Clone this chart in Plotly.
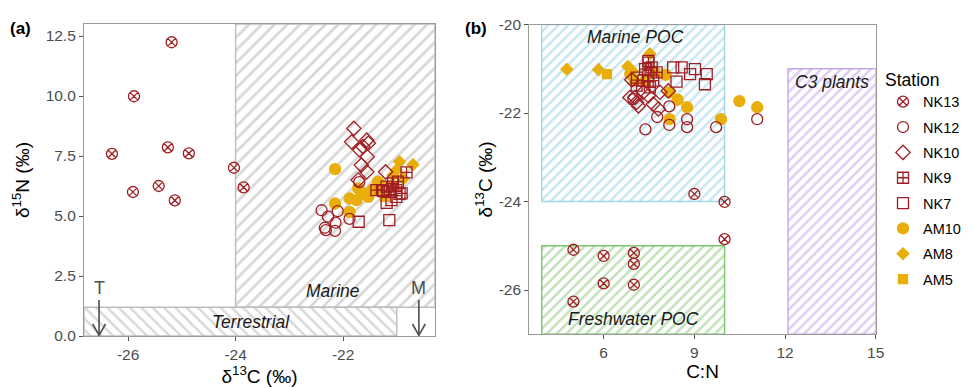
import plotly.graph_objects as go

# ---------------- data ----------------
STATIONS = ["NK13", "NK12", "NK10", "NK9", "NK7", "AM10", "AM8", "AM5"]

# Panel (a): d13C (x) vs d15N (y)
NK13_A_C = [-25.19, -25.89, -26.30, -25.26, -24.87, -25.91, -25.43, -25.13, -24.03, -23.85]
NK13_A_N = [12.24, 9.99, 7.59, 7.86, 7.61, 6.00, 6.25, 5.65, 7.01, 6.19]
NK12_A_C = [-22.40, -22.28, -22.34, -22.32, -22.15, -22.14, -22.10, -21.88, -21.70]
NK12_A_N = [5.24, 4.97, 4.51, 4.41, 4.38, 4.72, 5.20, 4.88, 6.41]
NK10_A_C = [-21.80, -21.84, -21.56, -21.53, -21.69, -21.63, -21.55, -21.66, -21.56, -21.72, -21.21]
NK10_A_N = [8.65, 8.09, 8.16, 8.03, 7.75, 7.89, 7.47, 7.12, 6.84, 6.50, 6.84]
NK9_A_C = [-20.82, -21.38, -21.26, -21.13, -21.01, -20.98, -21.07, -20.91, -21.19]
NK9_A_N = [6.82, 6.08, 6.08, 6.01, 6.08, 6.43, 6.36, 5.94, 6.22]
NK7_A_C = [-21.71, -21.14, -21.19, -21.01, -20.95, -21.10, -21.25]
NK7_A_N = [4.76, 4.83, 5.55, 5.80, 5.92, 5.66, 6.05]
AM10_A_C = [-22.15, -22.15, -21.88, -21.75, -21.88, -21.53, -21.72, -21.35, -21.26, -21.45, -21.62]
AM10_A_N = [6.95, 5.52, 5.73, 5.66, 5.17, 5.80, 6.15, 6.43, 5.94, 6.10, 5.95]
AM8_A_C = [-20.70, -20.95, -21.01, -21.07, -20.88, -21.30]
AM8_A_N = [7.14, 7.26, 6.91, 6.70, 6.55, 6.35]
AM5_A_C = [-21.42, -21.22, -21.10]
AM5_A_N = [6.05, 5.80, 6.25]

# Panel (b): C:N (x) vs d13C (y)
NK13_B_CN = [7, 6, 5, 6, 10, 7, 7, 5, 10, 9]
NK13_B_C = [-25.16, -25.85, -26.26, -25.23, -24.85, -25.88, -25.41, -25.09, -24.01, -23.83]
NK12_B_CN = [7.38, 7.77, 8.17, 8.76, 8.76, 9.72, 11.08, 8.17, 6.98]
NK12_B_C = [-22.37, -22.09, -22.27, -22.32, -22.14, -22.32, -22.14, -21.85, -21.68]
NK10_B_CN = [6.93, 6.87, 7.09, 7.48, 7.64, 7.86, 8.14, 7.31, 7.81, 7.15, 7.04]
NK10_B_C = [-21.25, -21.65, -21.76, -21.61, -21.80, -21.53, -21.50, -21.53, -21.91, -21.84, -21.65]
NK9_B_CN = [7.37, 7.59, 7.75, 7.48, 7.31, 7.64, 7.09, 7.53, 7.48]
NK9_B_C = [-21.01, -20.97, -21.08, -21.16, -21.27, -21.27, -21.38, -21.42, -20.86]
NK7_B_CN = [8.30, 8.58, 9.02, 8.86, 9.41, 8.41, 9.35, 7.48, 7.10]
NK7_B_C = [-20.97, -20.97, -21.01, -21.12, -21.12, -21.29, -21.35, -20.82, -21.20]
AM10_B_CN = [10.49, 11.08, 9.88, 8.76, 8.45, 8.18, 8.18, 8.05, 6.88, 7.37]
AM10_B_C = [-21.73, -21.87, -22.14, -21.87, -21.70, -22.14, -21.53, -21.14, -21.12, -21.28]
AM8_B_CN = [4.78, 5.83, 6.80, 7.53, 6.95]
AM8_B_C = [-21.01, -21.02, -20.95, -20.66, -21.05]
AM5_B_CN = [6.11, 7.00, 7.70]
AM5_B_C = [-21.12, -21.25, -21.10]

# source end-member regions
A_MARINE_C = [-24.0, -20.29]
A_MARINE_N = [1.2, 13.0]
A_TERR_C = [-26.82, -21.0]
A_TERR_N = [0.0, 1.2]
A_ARROW_C = {"T": -26.54, "M": -20.59}
B_MARINE_CN = [3.95, 10.0]
B_MARINE_C = [-24.0, -20.0]
B_FRESH_CN = [3.95, 10.0]
B_FRESH_C = [-27.0, -25.0]
B_C3_CN = [12.1, 15.0]
B_C3_C = [-27.0, -21.0]

RED = "#A01E22"
GOLD = "#E8AE0C"
FONT = "Liberation Sans, Arial, sans-serif"

# page body has an 8px margin: figure is drawn 8px in from the top-left corner
W, H = 965, 380
OFF = 8


def px(x):
    return (x - OFF) / W


def py(y):
    return 1 - (y - OFF) / H


style = {
    "NK13": dict(symbol="circle-x-open", size=11, color=RED),
    "NK12": dict(symbol="circle-open", size=11, color=RED),
    "NK10": dict(symbol="diamond-open", size=11, color=RED),
    "NK9": dict(symbol="square-cross-open", size=11, color=RED),
    "NK7": dict(symbol="square-open", size=11, color=RED),
    "AM10": dict(symbol="circle", size=11, color=GOLD),
    "AM8": dict(symbol="diamond", size=9, color=GOLD),
    "AM5": dict(symbol="square", size=9, color=GOLD),
}
dataA = {
    "NK13": (NK13_A_C, NK13_A_N), "NK12": (NK12_A_C, NK12_A_N), "NK10": (NK10_A_C, NK10_A_N),
    "NK9": (NK9_A_C, NK9_A_N), "NK7": (NK7_A_C, NK7_A_N), "AM10": (AM10_A_C, AM10_A_N),
    "AM8": (AM8_A_C, AM8_A_N), "AM5": (AM5_A_C, AM5_A_N),
}
dataB = {
    "NK13": (NK13_B_CN, NK13_B_C), "NK12": (NK12_B_CN, NK12_B_C), "NK10": (NK10_B_CN, NK10_B_C),
    "NK9": (NK9_B_CN, NK9_B_C), "NK7": (NK7_B_CN, NK7_B_C), "AM10": (AM10_B_CN, AM10_B_C),
    "AM8": (AM8_B_CN, AM8_B_C), "AM5": (AM5_B_CN, AM5_B_C),
}

fig = go.Figure()


def rect(xr, yr, color, shape, size, xa, ya, solidity=0.3, hatch=None):
    x0, x1 = xr
    y0, y1 = yr
    fig.add_trace(go.Scatter(
        x=[x0, x1, x1, x0, x0], y=[y0, y0, y1, y1, y0], mode="lines",
        fill="toself", line=dict(color=color, width=1.4),
        fillpattern=dict(shape=shape, fgcolor=hatch or color, bgcolor="white", size=size, solidity=solidity),
        xaxis=xa, yaxis=ya, showlegend=False, hoverinfo="skip"))


rect(A_MARINE_C, A_MARINE_N, "#BDBDBD", "/", 9, "x", "y", 0.3, "#B0B0B0")
rect(A_TERR_C, A_TERR_N, "#BDBDBD", "\\", 8, "x", "y", 0.3, "#B0B0B0")
rect(B_MARINE_CN, B_MARINE_C, "#A3D5E6", "/", 7, "x2", "y2", 0.35, "#8FCBE0")
rect(B_FRESH_CN, B_FRESH_C, "#7DC46F", "/", 7, "x2", "y2", 0.35)
rect(B_C3_CN, B_C3_C, "#C7A6E8", "/", 7, "x2", "y2", 0.35, "#BE98E6")

# draw gold stations first (underneath), legend order via legendrank
order = ["AM10", "AM8", "AM5", "NK13", "NK12", "NK10", "NK9", "NK7"]
for st in order:
    s = style[st]
    rank = STATIONS.index(st) + 1
    mk = dict(symbol=s["symbol"], size=s["size"], color=s["color"],
              line=dict(color=s["color"], width=1.3))
    xa, ya = dataA[st]
    fig.add_trace(go.Scatter(x=xa, y=ya, mode="markers", name=st, marker=mk,
                             legendgroup=st, legendrank=rank, xaxis="x", yaxis="y"))
    xb, yb = dataB[st]
    fig.add_trace(go.Scatter(x=xb, y=yb, mode="markers", name=st, marker=mk,
                             legendgroup=st, showlegend=False, xaxis="x2", yaxis="y2"))

# arrows T and M (panel a)
ARROW = "#4D4D4D"
for lab, xc in A_ARROW_C.items():
    fig.add_shape(type="line", x0=xc, x1=xc, y0=1.5, y1=0.03, xref="x", yref="y",
                  line=dict(color=ARROW, width=1.6))
    fig.add_shape(type="path", xref="x", yref="y",
                  path=f"M {xc-0.12},{0.5} L {xc},{0.03} L {xc+0.12},{0.5}",
                  line=dict(color=ARROW, width=1.6))
    fig.add_annotation(x=xc, y=2.0, xref="x", yref="y", text=lab, showarrow=False,
                       font=dict(family=FONT, size=18, color="#4D4D4D"))

ann_font = dict(family=FONT, size=17.5, color="#1a1a1a")
fig.add_annotation(x=-22.19, y=1.86, xref="x", yref="y", text="<i>Marine</i>", showarrow=False, font=ann_font)
fig.add_annotation(x=-23.72, y=0.6, xref="x", yref="y", text="<i>Terrestrial</i>", showarrow=False, font=ann_font)
fig.add_annotation(x=7.04, y=-20.28, xref="x2", yref="y2", text="<i>Marine POC</i>", showarrow=False, font=ann_font)
fig.add_annotation(x=7.0, y=-26.66, xref="x2", yref="y2", text="<i>Freshwater POC</i>", showarrow=False, font=ann_font)
fig.add_annotation(x=13.57, y=-21.29, xref="x2", yref="y2", text="<i>C3 plants</i>", showarrow=False, font=ann_font)

fig.add_annotation(x=px(8), y=py(17), xref="paper", yref="paper", xanchor="left", text="<b>(a)</b>",
                   showarrow=False, font=dict(family=FONT, size=17, color="black"))
fig.add_annotation(x=px(463), y=py(17), xref="paper", yref="paper", xanchor="left", text="<b>(b)</b>",
                   showarrow=False, font=dict(family=FONT, size=17, color="black"))

axis_common = dict(showline=True, linecolor="#9A9A9A", linewidth=1.2, mirror=True, ticks="outside",
                   ticklen=4, tickcolor="#555", tickwidth=1.2, showgrid=False, zeroline=False,
                   automargin=False,
                   tickfont=dict(family=FONT, size=15.5, color="#4D4D4D"))
title_font = dict(family=FONT, size=19, color="black")

fig.update_layout(
    width=W, height=H, margin=dict(l=0, r=0, t=0, b=0, autoexpand=False),
    paper_bgcolor="white", plot_bgcolor="white",
    xaxis=dict(domain=[px(84), px(435)], range=[-26.82, -20.29], anchor="y",
               tickvals=[-26, -24, -22], ticktext=["-26", "-24", "-22"],
               title=dict(text="δ<sup>13</sup>C (‰)", font=title_font, standoff=0), **axis_common),
    yaxis=dict(domain=[py(336), py(24)], range=[0, 13.0], anchor="x",
               tickvals=[0, 2.5, 5, 7.5, 10, 12.5], ticktext=["0.0", "2.5", "5.0", "7.5", "10.0", "12.5"],
               title=dict(text="δ<sup>15</sup>N (‰)", font=title_font, standoff=10), **axis_common),
    xaxis2=dict(domain=[px(529.3), px(875.7)], range=[3.54, 15.0], anchor="y2",
                tickvals=[6, 9, 12, 15], ticktext=["6", "9", "12", "15"],
                title=dict(text="C:N", font=title_font, standoff=0), **axis_common),
    yaxis2=dict(domain=[py(334.3), py(24.5)], range=[-27.0, -20.0], anchor="x2",
                tickvals=[-26, -24, -22, -20], ticktext=["-26", "-24", "-22", "-20"],
                title=dict(text="δ<sup>13</sup>C (‰)", font=title_font, standoff=1), **axis_common),
    legend=dict(x=px(966), y=py(63), xanchor="right", yanchor="top",
                title=dict(text="Station", font=dict(family=FONT, size=17.5, color="black")),
                font=dict(family=FONT, size=14.5, color="black"), tracegroupgap=3.5,
                bgcolor="rgba(0,0,0,0)"),
    showlegend=True,
)

fig.write_html("out.html")
